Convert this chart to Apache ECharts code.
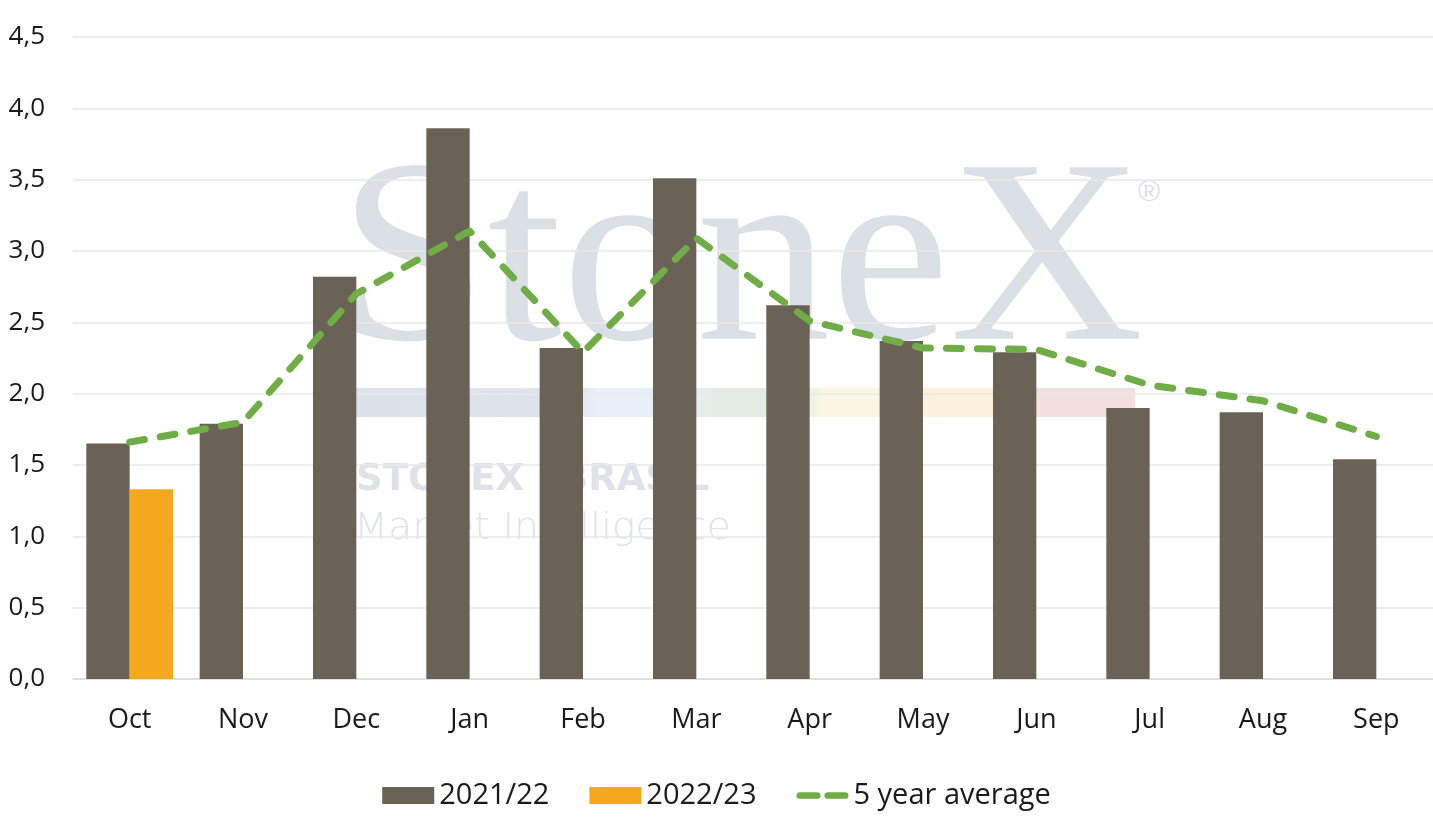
<!DOCTYPE html>
<html>
<head>
<meta charset="utf-8">
<script src="https://cdn.jsdelivr.net/npm/echarts@6/dist/echarts.min.js"></script>
<style>
html,body{margin:0;padding:0;background:#fff;}
#chart{width:1433px;height:832px;}
</style>
</head>
<body>
<div id="chart"></div>
<script>
const categories = ['Oct','Nov','Dec','Jan','Feb','Mar','Apr','May','Jun','Jul','Aug','Sep'];
const season2122 = [1.65, 1.79, 2.82, 3.86, 2.32, 3.51, 2.62, 2.37, 2.29, 1.90, 1.87, 1.54];
const season2223 = [1.33, null, null, null, null, null, null, null, null, null, null, null];
const avg5 = [1.66, 1.80, 2.70, 3.14, 2.29, 3.09, 2.51, 2.32, 2.31, 2.06, 1.95, 1.70];
const seriesNames = ['2021/22', '2022/23', '5 year average'];

const FONT = '"Open Sans", "Noto Sans", sans-serif';
const chart = echarts.init(document.getElementById('chart'));

const bandGradient = new echarts.graphic.LinearGradient(0, 0, 1, 0, [
  {offset: 0.00, color: '#dde1e9'},
  {offset: 0.28, color: '#dee3ec'},
  {offset: 0.31, color: '#e8eff8'},
  {offset: 0.43, color: '#e8eff8'},
  {offset: 0.46, color: '#e2ece4'},
  {offset: 0.57, color: '#e2ece4'},
  {offset: 0.60, color: '#fbf6e4'},
  {offset: 0.71, color: '#fbf6e4'},
  {offset: 0.74, color: '#fdf0dc'},
  {offset: 0.85, color: '#fdf0dc'},
  {offset: 0.88, color: '#f4dfe0'},
  {offset: 1.00, color: '#f4dfe0'}
]);

// two round-capped dashes for the legend icon of the average line
const dashIcon = 'path://M0,0 M3.5,5 L21.5,5 A3.5,3.5 0 0 1 21.5,12 L3.5,12 A3.5,3.5 0 0 1 3.5,5 Z ' +
                 'M32.5,5 L50.5,5 A3.5,3.5 0 0 1 50.5,12 L32.5,12 A3.5,3.5 0 0 1 32.5,5 Z M54,17';

const wmFill = '#dbe0e7';
chart.setOption({
  animation: false,
  backgroundColor: '#ffffff',
  graphic: [
    {type: 'text', z: -10, x: 338, y: 270, scaleX: 1.025,
     style: {text: 'StoneX', font: '262px "Liberation Serif", "DejaVu Serif", serif', fill: wmFill, align: 'left', verticalAlign: 'middle'}},
    {type: 'text', z: -10, x: 1149, y: 193,
     style: {text: '®', font: '30px "Liberation Sans", sans-serif', fill: wmFill, align: 'center', verticalAlign: 'middle'}},
    {type: 'rect', z: -10, shape: {x: 355, y: 388, width: 780, height: 29},
     style: {fill: bandGradient}},
    {type: 'text', z: -10, x: 356, y: 480,
     style: {text: 'STONEX', font: 'bold 37px "DejaVu Sans", sans-serif', fill: '#dfe3e9', align: 'left', verticalAlign: 'middle'}},
    {type: 'text', z: -10, x: 560, y: 480,
     style: {text: 'BRASIL', font: 'bold 37px "DejaVu Sans", sans-serif', fill: '#dfe3e9', align: 'left', verticalAlign: 'middle'}},
    {type: 'text', z: -10, x: 354, y: 529, scaleX: 1.04,
     style: {text: 'Market Intelligence', font: '200 38px "DejaVu Sans", sans-serif', fill: '#e0e4ea', align: 'left', verticalAlign: 'middle'}}
  ],
  grid: {left: 73, right: 0, top: 37, bottom: 153, containLabel: false},
  legend: {
    data: [
      {name: seriesNames[0], icon: 'rect'},
      {name: seriesNames[1], icon: 'rect'},
      {name: seriesNames[2], icon: dashIcon, itemStyle: {color: '#70ad47'}}
    ],
    left: 'center',
    top: 776,
    itemWidth: 52,
    itemHeight: 17,
    itemGap: 40,
    textStyle: {fontSize: 29, color: '#1a1a1a', fontFamily: FONT}
  },
  xAxis: {
    type: 'category',
    data: categories,
    axisTick: {show: false},
    axisLine: {lineStyle: {color: '#d9d9d9', width: 1.5}},
    axisLabel: {fontSize: 27, color: '#1a1a1a', fontFamily: FONT, margin: 28}
  },
  yAxis: {
    type: 'value',
    min: 0,
    max: 4.5,
    interval: 0.5,
    axisLine: {show: false},
    axisTick: {show: false},
    splitLine: {lineStyle: {color: '#e8e8e8', width: 1.5}},
    axisLabel: {
      fontSize: 26, color: '#1a1a1a', fontFamily: FONT, margin: 28,
      formatter: v => v.toFixed(1).replace('.', ',')
    }
  },
  series: [
    {
      name: seriesNames[0], type: 'bar', data: season2122,
      barGap: '0%', barCategoryGap: '23.5%',
      itemStyle: {color: '#6a6257'}
    },
    {
      name: seriesNames[1], type: 'bar', data: season2223,
      barGap: '0%', barCategoryGap: '23.5%',
      itemStyle: {color: '#f5a81e'}
    },
    {
      name: seriesNames[2], type: 'line', data: avg5,
      symbol: 'none', z: 5,
      lineStyle: {color: '#70ad47', width: 7, type: [15, 16], cap: 'round', join: 'round'},
      itemStyle: {color: '#70ad47'}
    }
  ]
});
</script>
</body>
</html>
